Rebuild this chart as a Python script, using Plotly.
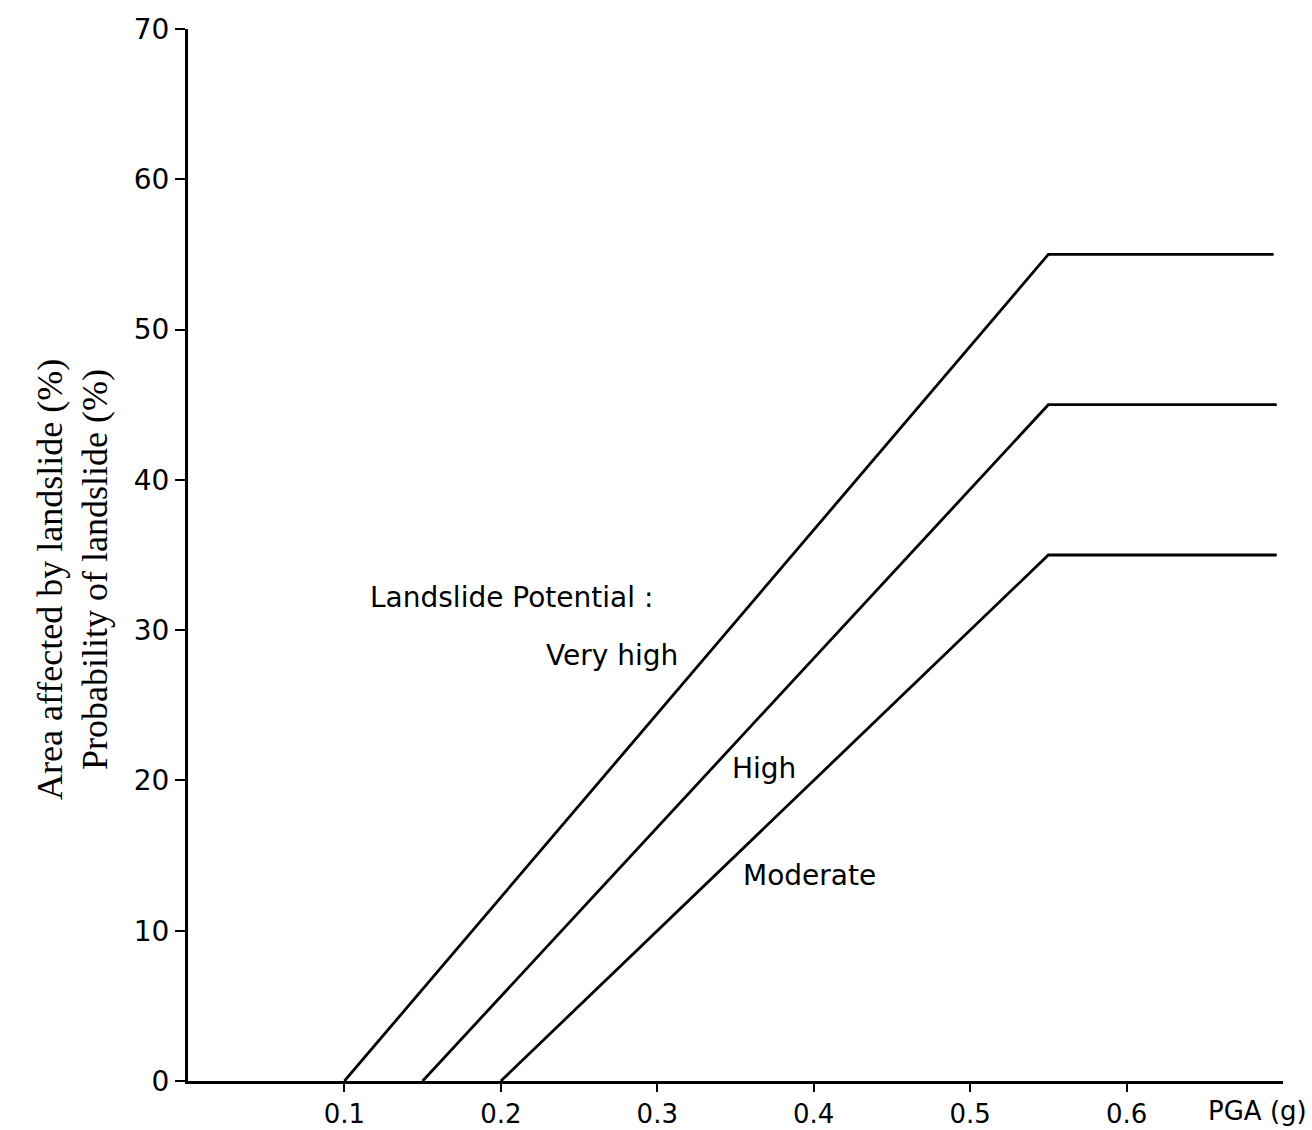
import plotly.graph_objects as go

# Landslide potential curves: PGA (g) vs area affected / probability (%)
pga_very_high = [0.10, 0.55, 0.694]
pct_very_high = [0, 55, 55]
pga_high = [0.15, 0.55, 0.696]
pct_high = [0, 45, 45]
pga_moderate = [0.20, 0.55, 0.696]
pct_moderate = [0, 35, 35]

x_ticks = [0.1, 0.2, 0.3, 0.4, 0.5, 0.6]
x_tick_labels = ["0.1", "0.2", "0.3", "0.4", "0.5", "0.6"]
y_ticks = [0, 10, 20, 30, 40, 50, 60, 70]
y_tick_labels = ["0", "10", "20", "30", "40", "50", "60", "70"]

line_style = dict(color="black", width=2.8)
tick_font = dict(family="DejaVu Sans", size=26, color="black")
label_font = dict(family="DejaVu Sans", size=28, color="black")

fig = go.Figure()
for xs, ys, name in [
    (pga_very_high, pct_very_high, "Very high"),
    (pga_high, pct_high, "High"),
    (pga_moderate, pct_moderate, "Moderate"),
]:
    fig.add_trace(go.Scatter(x=xs, y=ys, mode="lines", line=line_style,
                             name=name, showlegend=False))

fig.update_layout(
    width=1312, height=1130,
    margin=dict(l=188, r=29, t=29, b=49),
    paper_bgcolor="white", plot_bgcolor="white",
    showlegend=False,
)
fig.update_xaxes(
    range=[0, 0.7], showgrid=False, zeroline=False,
    showline=True, linecolor="black", linewidth=3,
    tickmode="array", tickvals=x_ticks, ticktext=x_tick_labels,
    ticks="outside", ticklen=8, tickwidth=2, tickcolor="black",
    tickfont=tick_font, automargin=False, ticklabelstandoff=0,
)
fig.update_yaxes(
    range=[0, 70], showgrid=False, zeroline=False,
    showline=True, linecolor="black", linewidth=3,
    tickmode="array", tickvals=y_ticks, ticktext=y_tick_labels,
    ticks="outside", ticklen=10, tickwidth=2, tickcolor="black",
    tickfont=dict(family="DejaVu Sans", size=28, color="black"),
    automargin=False, ticklabelstandoff=0,
)

annotations = [
    dict(x=0.207, y=32.2, text="Landslide Potential :"),
    dict(x=0.2713, y=28.3, text="Very high"),
    dict(x=0.368, y=20.8, text="High"),
    dict(x=0.397, y=13.7, text="Moderate"),
]
for a in annotations:
    fig.add_annotation(x=a["x"], y=a["y"], text=a["text"], xref="x", yref="y",
                       showarrow=False, font=label_font)

# x-axis unit label sitting on the tick-label row
fig.add_annotation(x=1.0, y=0, xref="paper", yref="paper", text="PGA (g)",
                   xanchor="right", yanchor="top", yshift=-13, xshift=26,
                   showarrow=False, font=tick_font)

# two-line y-axis title
title_font = dict(family="Liberation Serif", size=36, color="black")
fig.add_annotation(x=0, y=(1081 - 580) / 1052, xref="paper", yref="paper",
                   text="Area affected by landslide (%)", textangle=-90,
                   xanchor="center", yanchor="middle", xshift=-138,
                   showarrow=False, font=title_font)
fig.add_annotation(x=0, y=(1081 - 570) / 1052, xref="paper", yref="paper",
                   text="Probability of landslide (%)", textangle=-90,
                   xanchor="center", yanchor="middle", xshift=-93,
                   showarrow=False, font=title_font)

fig.write_html("out.html")
